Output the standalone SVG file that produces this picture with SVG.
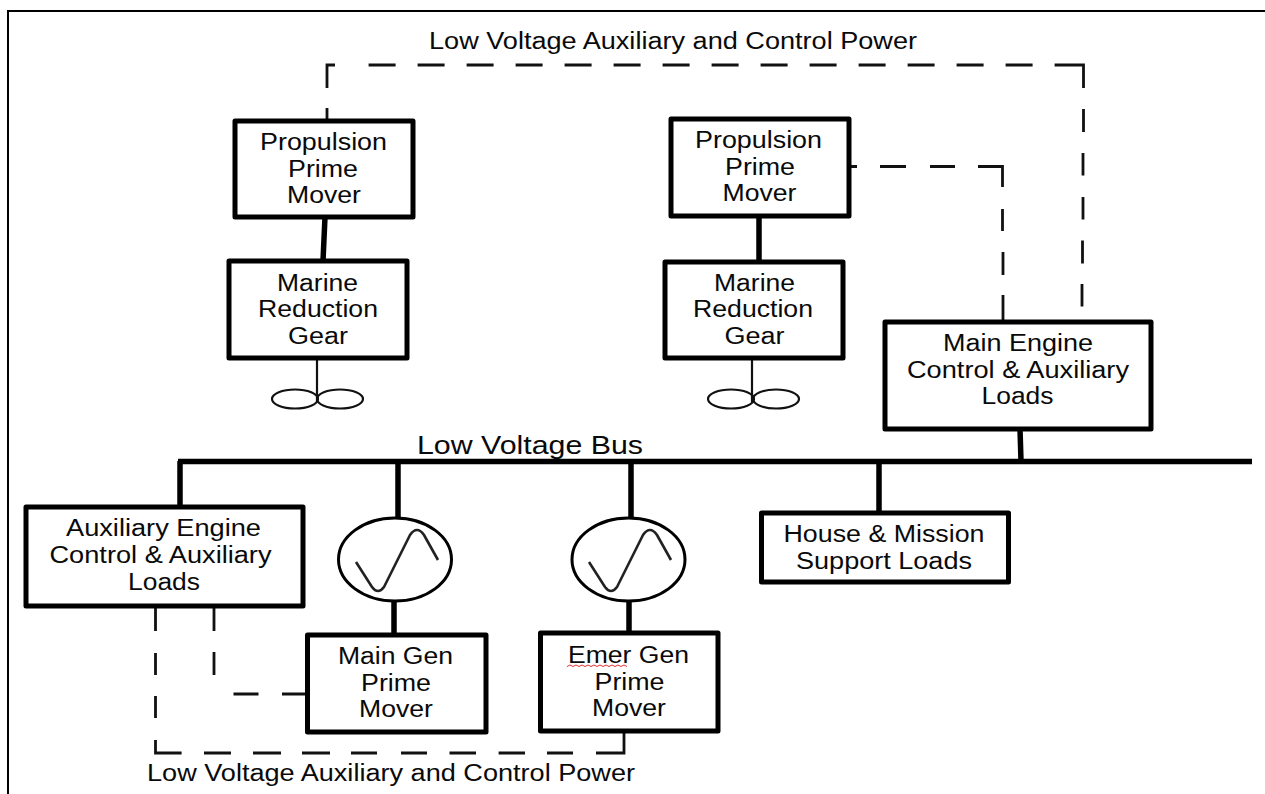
<svg xmlns="http://www.w3.org/2000/svg" width="1265" height="794" viewBox="0 0 1265 794">
<style>
text{font-family:"Liberation Sans",Arial,sans-serif;font-size:23.5px;fill:#0a0a0a;}
.box{fill:#fff;stroke:#000;stroke-width:5;stroke-linejoin:round;}
.bus{fill:none;stroke:#000;stroke-width:5.5;}
.dash{fill:none;stroke:#111;stroke-width:2.8;}
.thin{fill:none;stroke:#111;stroke-width:2.2;}
.gen{fill:#fff;stroke:#000;stroke-width:3;}
.sine{fill:none;stroke:#222;stroke-width:2.6;stroke-linejoin:round;}
</style>
<rect width="1265" height="794" fill="#fff"/>
<path id="frame" d="M8 794V11H1265" fill="none" stroke="#000" stroke-width="2"/>
<g id="connectors">
<path class="bus" d="M178 461.5H1252M180 461V507M398 461V518M631 461V518M394 601V635M629 601V633M879 461V513M1020 429L1021 461M325 217L323 261M759 216V262"/>
<path class="thin" d="M317 358V402M752 358V402"/>
<path class="dash" d="M327 120V108M327 88V65H335M368.6 65H395.6M417.6 65H444.6M466.6 65H493.6M515.6 65H542.6M564.6 65H591.6M613.6 65H640.6M662.6 65H689.6M711.6 65H738.6M760.6 65H787.6M809.6 65H836.6M858.6 65H885.6M907.6 65H934.6M956.6 65H983.6M1005.6 65H1032.6M1054.6 65H1083.5V88M1083.5 109V132M1083 153V175.5M1083 197V219.5M1082.5 240.6V263.6M1082 284V306.5"/>
<path class="dash" d="M849 166.5H857M880 166.5H906M930 166.5H955M978 166.5H1002.5V187M1002.5 209V231M1003 252V275M1003 295V320"/>
<path class="dash" d="M155.5 608V631M155.5 653V675M155.5 696V718M155.5 740V753H181.6M204 753H231M253 753H281M302 753H330M351 753H377M401 753H427M449.5 753H476M498.6 753H525M547 753H573M596 753H624V730"/>
<path class="dash" d="M214 608V631M214 652V675M233.5 694H258.5M282 694H307"/>
</g>
<g id="propulsion-prime-mover-1"><rect class="box" x="235" y="121" width="178" height="96"/>
<text x="260" y="150" textLength="127" lengthAdjust="spacingAndGlyphs">Propulsion</text>
<text x="288" y="177" textLength="70" lengthAdjust="spacingAndGlyphs">Prime</text>
<text x="287" y="203" textLength="74" lengthAdjust="spacingAndGlyphs">Mover</text></g>
<g id="marine-reduction-gear-1"><rect class="box" x="229" y="261" width="178" height="97"/>
<text x="277" y="291" textLength="81" lengthAdjust="spacingAndGlyphs">Marine</text>
<text x="258" y="317" textLength="120" lengthAdjust="spacingAndGlyphs">Reduction</text>
<text x="288" y="344" textLength="60" lengthAdjust="spacingAndGlyphs">Gear</text></g>
<g id="propeller-1"><ellipse class="thin" cx="295" cy="399" rx="23" ry="9.5"/><ellipse class="thin" cx="340" cy="399" rx="23" ry="9.5"/></g>
<g id="propulsion-prime-mover-2"><rect class="box" x="671" y="119" width="178" height="97"/>
<text x="695" y="148" textLength="127" lengthAdjust="spacingAndGlyphs">Propulsion</text>
<text x="725" y="175" textLength="70" lengthAdjust="spacingAndGlyphs">Prime</text>
<text x="722.5" y="201" textLength="74" lengthAdjust="spacingAndGlyphs">Mover</text></g>
<g id="marine-reduction-gear-2"><rect class="box" x="665" y="262" width="178" height="96"/>
<text x="714" y="291" textLength="81" lengthAdjust="spacingAndGlyphs">Marine</text>
<text x="693" y="317" textLength="120" lengthAdjust="spacingAndGlyphs">Reduction</text>
<text x="724.5" y="344" textLength="60" lengthAdjust="spacingAndGlyphs">Gear</text></g>
<g id="propeller-2"><ellipse class="thin" cx="731" cy="399" rx="23" ry="9.5"/><ellipse class="thin" cx="776" cy="399" rx="23" ry="9.5"/></g>
<g id="main-engine-loads"><rect class="box" x="885" y="322" width="266" height="107"/>
<text x="943" y="351" textLength="150" lengthAdjust="spacingAndGlyphs">Main Engine</text>
<text x="907" y="378" textLength="222" lengthAdjust="spacingAndGlyphs">Control &amp; Auxiliary</text>
<text x="981.5" y="404" textLength="72" lengthAdjust="spacingAndGlyphs">Loads</text></g>
<g id="house-mission-loads"><rect class="box" x="761.5" y="513" width="247" height="69"/>
<text x="783.5" y="542" textLength="201" lengthAdjust="spacingAndGlyphs">House &amp; Mission</text>
<text x="796" y="569" textLength="176" lengthAdjust="spacingAndGlyphs">Support Loads</text></g>
<g id="auxiliary-engine-loads"><rect class="box" x="26" y="507" width="277" height="99"/>
<text x="66" y="535.5" textLength="195" lengthAdjust="spacingAndGlyphs">Auxiliary Engine</text>
<text x="49.5" y="562.5" textLength="222" lengthAdjust="spacingAndGlyphs">Control &amp; Auxiliary</text>
<text x="128" y="590" textLength="72" lengthAdjust="spacingAndGlyphs">Loads</text></g>
<g id="generator-main"><ellipse class="gen" cx="395" cy="559.5" rx="56.5" ry="41.5"/>
<path class="sine" d="M356 562L372 587Q378 595 384 587L410 535Q417 525 424 535L438 560"/></g>
<g id="generator-emergency"><ellipse class="gen" cx="628.5" cy="559.5" rx="56.5" ry="41.5"/>
<path class="sine" d="M589 562L605 587Q611 595 617 587L643 535Q650 525 657 535L671 560"/></g>
<g id="main-gen-prime-mover"><rect class="box" x="307.5" y="635" width="178.5" height="97"/>
<text x="338" y="664" textLength="115" lengthAdjust="spacingAndGlyphs">Main Gen</text>
<text x="361" y="691" textLength="70" lengthAdjust="spacingAndGlyphs">Prime</text>
<text x="359" y="717" textLength="74" lengthAdjust="spacingAndGlyphs">Mover</text></g>
<g id="emer-gen-prime-mover"><rect class="box" x="540.5" y="633" width="177.5" height="98"/>
<text x="568" y="663" textLength="121" lengthAdjust="spacingAndGlyphs">Emer Gen</text>
<path d="M567 666.500l3 -1.500 3 1.500 3 -1.500 3 1.500 3 -1.500 3 1.500 3 -1.500 3 1.500 3 -1.500 3 1.500 3 -1.500 3 1.500 3 -1.500 3 1.500 3 -1.500 3 1.500 3 -1.500 3 1.500 3 -1.500 3 1.500" fill="none" stroke="#e03030" stroke-width="1"/>
<text x="594.5" y="690" textLength="70" lengthAdjust="spacingAndGlyphs">Prime</text>
<text x="592" y="716" textLength="74" lengthAdjust="spacingAndGlyphs">Mover</text></g>
<g id="labels">
<text x="429" y="49" textLength="488" lengthAdjust="spacingAndGlyphs">Low Voltage Auxiliary and Control Power</text>
<text x="147" y="781" textLength="488" lengthAdjust="spacingAndGlyphs">Low Voltage Auxiliary and Control Power</text>
<text x="417" y="454" textLength="226" lengthAdjust="spacingAndGlyphs" style="font-size:25px">Low Voltage Bus</text>
</g>
</svg>
